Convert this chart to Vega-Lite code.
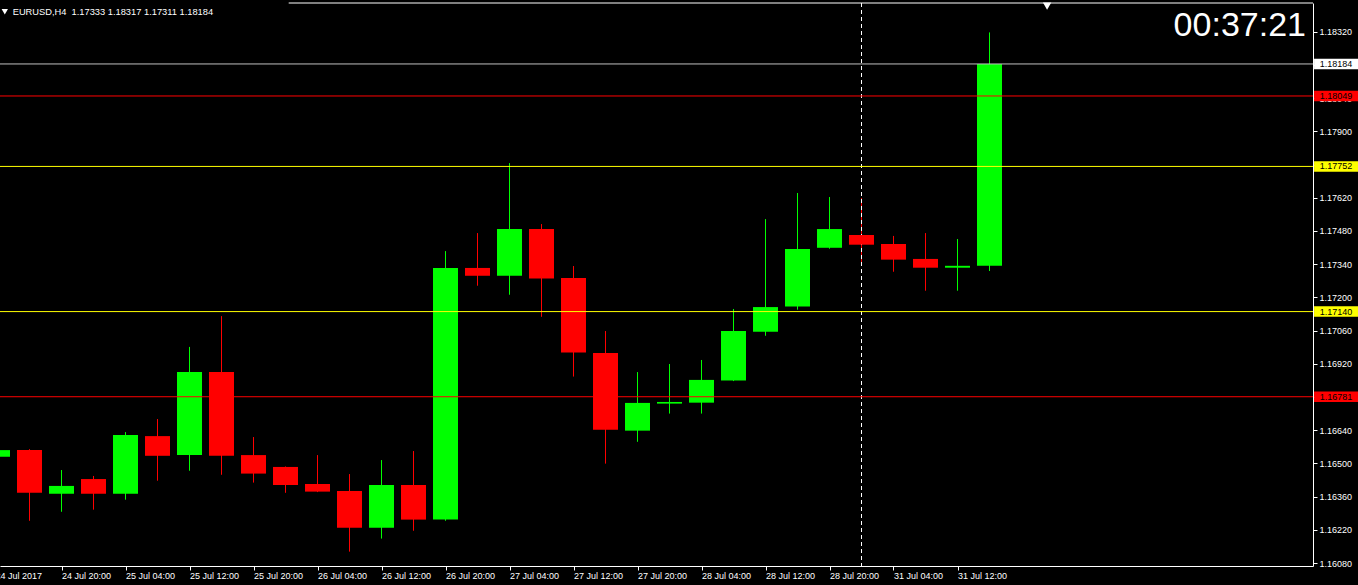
{
  "$schema": "https://vega.github.io/schema/vega-lite/v6.json",
  "width": 1313,
  "height": 563,
  "autosize": {"type": "none"},
  "padding": {"left": 0, "top": 3, "right": 45, "bottom": 19},
  "background": "#000000",
  "config": {
    "view": {"stroke": null},
    "axis": {"grid": false, "labelFont": "Liberation Sans", "labelFontSize": 9, "labelColor": "#FFFFFF", "tickColor": "#FFFFFF", "domainColor": "#FFFFFF", "domainWidth": 1, "tickWidth": 1}
  },
  "datasets": {
    "candles": [
      {"i": 0, "time": "2017-07-24 12:00", "o": 1.16528, "h": 1.16573, "l": 1.16506, "c": 1.16556},
      {"i": 1, "time": "2017-07-24 16:00", "o": 1.16556, "h": 1.16560, "l": 1.16258, "c": 1.16376},
      {"i": 2, "time": "2017-07-24 20:00", "o": 1.16372, "h": 1.16472, "l": 1.16296, "c": 1.16405},
      {"i": 3, "time": "2017-07-25 00:00", "o": 1.16434, "h": 1.16447, "l": 1.16305, "c": 1.16372},
      {"i": 4, "time": "2017-07-25 04:00", "o": 1.16372, "h": 1.16632, "l": 1.16347, "c": 1.16620},
      {"i": 5, "time": "2017-07-25 08:00", "o": 1.16615, "h": 1.16687, "l": 1.16427, "c": 1.16532},
      {"i": 6, "time": "2017-07-25 12:00", "o": 1.16535, "h": 1.16991, "l": 1.16469, "c": 1.16885},
      {"i": 7, "time": "2017-07-25 16:00", "o": 1.16885, "h": 1.17121, "l": 1.16452, "c": 1.16532},
      {"i": 8, "time": "2017-07-25 20:00", "o": 1.16535, "h": 1.16611, "l": 1.16419, "c": 1.16457},
      {"i": 9, "time": "2017-07-26 00:00", "o": 1.16485, "h": 1.16487, "l": 1.16376, "c": 1.16409},
      {"i": 10, "time": "2017-07-26 04:00", "o": 1.16413, "h": 1.16535, "l": 1.16379, "c": 1.16381},
      {"i": 11, "time": "2017-07-26 08:00", "o": 1.16384, "h": 1.16455, "l": 1.16128, "c": 1.16229},
      {"i": 12, "time": "2017-07-26 12:00", "o": 1.16229, "h": 1.16514, "l": 1.16183, "c": 1.16409},
      {"i": 13, "time": "2017-07-26 16:00", "o": 1.16409, "h": 1.16552, "l": 1.16216, "c": 1.16263},
      {"i": 14, "time": "2017-07-26 20:00", "o": 1.16263, "h": 1.17395, "l": 1.16258, "c": 1.17324},
      {"i": 15, "time": "2017-07-27 00:00", "o": 1.17324, "h": 1.17471, "l": 1.17249, "c": 1.17291},
      {"i": 16, "time": "2017-07-27 04:00", "o": 1.17291, "h": 1.17766, "l": 1.17211, "c": 1.17488},
      {"i": 17, "time": "2017-07-27 08:00", "o": 1.17488, "h": 1.17509, "l": 1.17118, "c": 1.17279},
      {"i": 18, "time": "2017-07-27 12:00", "o": 1.17282, "h": 1.17332, "l": 1.16866, "c": 1.16967},
      {"i": 19, "time": "2017-07-27 16:00", "o": 1.16965, "h": 1.17058, "l": 1.16499, "c": 1.16642},
      {"i": 20, "time": "2017-07-27 20:00", "o": 1.16638, "h": 1.16885, "l": 1.16591, "c": 1.16755},
      {"i": 21, "time": "2017-07-28 00:00", "o": 1.16752, "h": 1.16919, "l": 1.16710, "c": 1.16759},
      {"i": 22, "time": "2017-07-28 04:00", "o": 1.16756, "h": 1.16936, "l": 1.16710, "c": 1.16852},
      {"i": 23, "time": "2017-07-28 08:00", "o": 1.16849, "h": 1.17151, "l": 1.16847, "c": 1.17058},
      {"i": 24, "time": "2017-07-28 12:00", "o": 1.17055, "h": 1.17530, "l": 1.17038, "c": 1.17159},
      {"i": 25, "time": "2017-07-28 16:00", "o": 1.17161, "h": 1.17640, "l": 1.17148, "c": 1.17404},
      {"i": 26, "time": "2017-07-28 20:00", "o": 1.17409, "h": 1.17623, "l": 1.17405, "c": 1.17488},
      {"i": 27, "time": "2017-07-31 00:00", "o": 1.17463, "h": 1.17619, "l": 1.17342, "c": 1.17422},
      {"i": 28, "time": "2017-07-31 04:00", "o": 1.17425, "h": 1.17459, "l": 1.17308, "c": 1.17359},
      {"i": 29, "time": "2017-07-31 08:00", "o": 1.17362, "h": 1.17471, "l": 1.17228, "c": 1.17325},
      {"i": 30, "time": "2017-07-31 12:00", "o": 1.17325, "h": 1.17446, "l": 1.17228, "c": 1.17333},
      {"i": 31, "time": "2017-07-31 16:00", "o": 1.17333, "h": 1.18317, "l": 1.17311, "c": 1.18184}
    ],
    "levels": [
      {"price": 1.18184, "kind": "bid"},
      {"price": 1.18049, "kind": "alert"},
      {"price": 1.17752, "kind": "level"},
      {"price": 1.17140, "kind": "level"},
      {"price": 1.16781, "kind": "alert"}
    ]
  },
  "layer": [
    {
      "data": {"name": "candles"},
      "mark": {"type": "rule", "strokeWidth": 1},
      "encoding": {
        "x": {"field": "i", "type": "quantitative", "title": null,
          "scale": {"domain": [0.078125, 41.109375], "nice": false, "zero": false, "padding": 0},
          "axis": {"orient": "bottom", "title": null, "tickCount": 100, "values": [0.078125,2,4,6,8,10,12,14,16,18,20,22,24,26,28,30],
            "labelExpr": "datum.value < 1 ? '24 Jul 2017' : timeFormat(datetime(2017, 6, 24, 12 + 4 * datum.value + (datum.value >= 27 ? 48 : 0)), '%d %b %H:%M')",
            "labelOffset": {"condition": {"test": "datum.value < 1", "value": -5}, "value": 0},
            "tickOpacity": {"condition": {"test": "datum.value < 1", "value": 0}, "value": 1},
            "labelAlign": "left", "labelBaseline": "top", "labelPadding": 1, "tickSize": 4, "labelOverlap": false, "labelBound": false, "labelFlush": false, "domain": true}},
        "y": {"field": "l", "type": "quantitative", "title": null,
          "scale": {"domain": [1.160674, 1.18441], "nice": false, "zero": false, "padding": 0},
          "axis": {"orient": "right", "title": null, "tickCount": 100, "values": [1.1608,1.1622,1.1636,1.165,1.1664,1.1678,1.1692,1.1706,1.172,1.1734,1.1748,1.1762,1.1776,1.179,1.1804,1.1818,1.1832],
            "format": ".5f", "tickSize": 4, "labelPadding": 2, "labelBaseline": "middle", "labelOverlap": false, "labelBound": false, "labelFlush": false, "domain": true}},
        "y2": {"field": "h"},
        "color": {"condition": {"test": "datum.c >= datum.o", "value": "#00FF00"}, "value": "#FF0000"}
      }
    },
    {
      "data": {"values": [{"sep": "31 Jul 00:00"}]},
      "mark": {"type": "rule", "color": "#FFFFFF", "strokeWidth": 1, "strokeDash": [4, 3]},
      "encoding": {"x": {"datum": 27}}
    },
    {
      "data": {"name": "candles"},
      "mark": {"type": "bar", "size": 25},
      "encoding": {
        "x": {"field": "i", "type": "quantitative", "title": null},
        "y": {"field": "o", "type": "quantitative", "title": null},
        "y2": {"field": "c"},
        "color": {"condition": {"test": "datum.c >= datum.o", "value": "#00FF00"}, "value": "#FF0000"}
      }
    },
    {
      "data": {"name": "levels"},
      "mark": {"type": "rule", "strokeWidth": 1},
      "encoding": {
        "y": {"field": "price", "type": "quantitative", "title": null},
        "stroke": {"field": "kind", "type": "nominal", "legend": null,
          "scale": {"domain": ["bid", "alert", "level"], "range": ["#C0C0C0", "#FF0000", "#FFFF00"]}}
      }
    },
    {
      "data": {"values": [{"frame": "top"}]},
      "mark": {"type": "rule", "color": "#FFFFFF", "strokeWidth": 1},
      "encoding": {"x": {"datum": 9.1}, "x2": {"datum": 41.109375}, "y": {"datum": 1.18441}}
    },
    {
      "data": {"name": "levels"},
      "mark": {"type": "point", "shape": "M-1,-0.24H1V0.24H-1Z", "size": 1936, "filled": true, "opacity": 1, "strokeWidth": 0, "clip": false},
      "encoding": {
        "x": {"datum": 41.83},
        "y": {"field": "price", "type": "quantitative", "title": null},
        "fill": {"field": "kind", "type": "nominal", "legend": null,
          "scale": {"domain": ["bid", "alert", "level"], "range": ["#FFFFFF", "#FF0000", "#FFFF00"]}}
      }
    },
    {
      "data": {"name": "levels"},
      "mark": {"type": "text", "font": "Liberation Sans", "fontSize": 9, "align": "center", "baseline": "middle", "color": "#000000", "clip": false},
      "encoding": {
        "x": {"datum": 41.83},
        "y": {"field": "price", "type": "quantitative", "title": null},
        "text": {"field": "price", "type": "quantitative", "format": ".5f"}
      }
    },
    {
      "data": {"values": [{"label": "EURUSD,H4\u00a0 1.17333 1.18317 1.17311 1.18184"}]},
      "mark": {"type": "text", "font": "Liberation Sans", "fontSize": 9.3, "align": "left", "baseline": "alphabetic", "color": "#FFFFFF"},
      "encoding": {
        "x": {"datum": 0.475},
        "y": {"datum": 1.1839},
        "text": {"field": "label"}
      }
    },
    {
      "data": {"values": [{"marker": "menu"}]},
      "mark": {"type": "point", "shape": "triangle-down", "filled": true, "color": "#FFFFFF", "opacity": 1, "size": 40},
      "encoding": {
        "x": {"datum": 0.228},
        "y": {"datum": 1.18404}
      }
    },
    {
      "data": {"values": [{"marker": "shift"}]},
      "mark": {"type": "point", "shape": "triangle-down", "filled": true, "color": "#FFFFFF", "opacity": 1, "size": 70},
      "encoding": {
        "x": {"datum": 32.8},
        "y": {"datum": 1.18428}
      }
    },
    {
      "data": {"values": [{"clock": "00:37:21"}]},
      "mark": {"type": "text", "font": "Liberation Sans", "fontSize": 34, "align": "right", "baseline": "alphabetic", "color": "#FFFFFF"},
      "encoding": {
        "x": {"datum": 40.89},
        "y": {"datum": 1.18302},
        "text": {"field": "clock"}
      }
    }
  ]
}
